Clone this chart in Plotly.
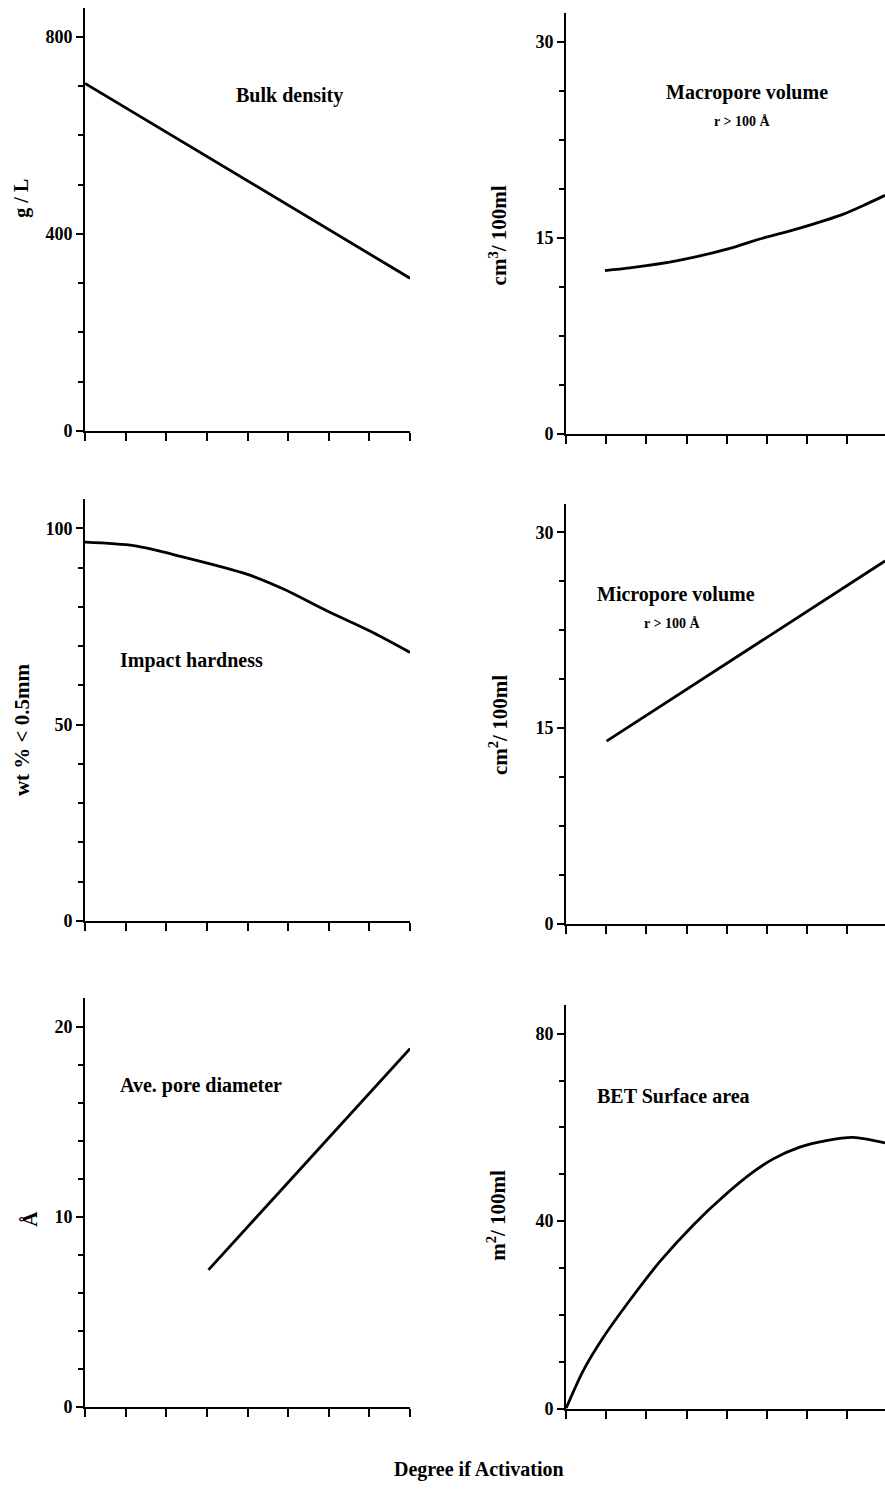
import plotly.graph_objects as go

# ---- data (degree of activation on x, 0..8 arbitrary units) ----
bulk_x = [0, 8]
bulk_y = [705, 310]

macro_x = [0.97, 1.59, 2.84, 4.08, 4.75, 5.82, 6.89, 7.49, 7.94]
macro_y = [12.5, 12.7, 13.3, 14.2, 14.85, 15.75, 16.8, 17.6, 18.25]

impact_x = [0, 1.2, 2.35, 4.0, 4.9, 5.95, 7.0, 8]
impact_y = [96.5, 95.6, 92.9, 88.3, 84.5, 79.0, 73.9, 68.4]

micro_x = [1.01, 7.94]
micro_y = [14.0, 27.8]

pore_x = [3.04, 8]
pore_y = [7.2, 18.85]

bet_x = [0, 0.43, 0.93, 1.51, 2.34, 3.17, 3.91, 4.66, 5.16, 5.82, 6.48, 7.15, 7.94]
bet_y = [0, 8.1, 15.2, 22.2, 31.4, 39.2, 45.2, 50.5, 53.3, 55.8, 57.2, 57.9, 56.7]

W, H = 885, 1496
FONT = "Liberation Serif"

def px(x):
    return x / W

def py(y):
    return 1 - y / H

# panel layout: x-domain px, y-domain px (top, bottom), y range max, major/minor tick steps, x range max
panels = [
    dict(x=bulk_x, y=bulk_y, xd=(85, 410), yd=(8, 434), ymax=858, major=400, minor=100, xmax=8, shape="linear"),
    dict(x=macro_x, y=macro_y, xd=(566, 885), yd=(13, 437), ymax=32.2, major=15, minor=3.75, xmax=7.94, shape="spline"),
    dict(x=impact_x, y=impact_y, xd=(85, 410), yd=(502, 927), ymax=107.6, major=50, minor=10, xmax=8, shape="spline"),
    dict(x=micro_x, y=micro_y, xd=(566, 885), yd=(507, 930), ymax=32.2, major=15, minor=3.75, xmax=7.94, shape="linear"),
    dict(x=pore_x, y=pore_y, xd=(85, 410), yd=(1005, 1416), ymax=21.5, major=10, minor=2, xmax=8, shape="linear"),
    dict(x=bet_x, y=bet_y, xd=(566, 885), yd=(1012, 1418), ymax=86.1, major=40, minor=10, xmax=7.94, shape="spline"),
]

fig = go.Figure()
layout = dict(
    width=W, height=H,
    margin=dict(l=0, r=0, t=0, b=0),
    paper_bgcolor="white", plot_bgcolor="white",
    showlegend=False,
)

for i, p in enumerate(panels, start=1):
    xa = "x" if i == 1 else f"x{i}"
    ya = "y" if i == 1 else f"y{i}"
    fig.add_trace(go.Scatter(
        x=p["x"], y=p["y"], mode="lines",
        line=dict(color="black", width=2.8, shape=p["shape"], smoothing=0.8),
        xaxis=xa, yaxis=ya, hoverinfo="skip",
    ))
    xkey = "xaxis" if i == 1 else f"xaxis{i}"
    ykey = "yaxis" if i == 1 else f"yaxis{i}"
    layout[xkey] = dict(
        domain=[px(p["xd"][0]), px(p["xd"][1])],
        range=[0, p["xmax"]],
        anchor=ya,
        tickmode="linear", tick0=0, dtick=1,
        ticks="outside", ticklen=8, tickwidth=2, tickcolor="black",
        showticklabels=False, showgrid=False, zeroline=False,
        showline=True, linewidth=2, linecolor="black",
    )
    layout[ykey] = dict(
        domain=[py(p["yd"][1]), py(p["yd"][0])],
        range=[0, p["ymax"]],
        anchor=xa,
        tickmode="linear", tick0=0, dtick=p["major"],
        ticks="outside", ticklen=7, tickwidth=2, tickcolor="black",
        minor=dict(tick0=0, dtick=p["minor"], ticks="outside", ticklen=5,
                   tickwidth=2, tickcolor="black"),
        tickfont=dict(family=FONT, size=18, color="black", weight="bold"),
        showgrid=False, zeroline=False,
        showline=True, linewidth=2, linecolor="black",
    )

fig.update_layout(**layout)

def note(text, x, y, size=20, angle=0):
    fig.add_annotation(
        text=text, x=px(x), y=py(y), xref="paper", yref="paper",
        showarrow=False, textangle=angle, xanchor="center", yanchor="middle",
        font=dict(family=FONT, size=size, color="black", weight="bold"),
    )

# panel titles
note("Bulk density", 289, 96)
note("Macropore volume", 747, 93)
note("r > 100 Å", 742, 122, size=14)
note("Impact hardness", 191, 665)
note("Micropore volume", 676, 599)
note("r > 100 Å", 672, 628, size=14)
note("Ave. pore diameter", 201, 1093)
note("BET Surface area", 673, 1103)

# y-axis titles
note("g / L", 22, 200, size=20, angle=-90)
note("cm<sup>3</sup>/ 100ml", 498, 237, size=21, angle=-90)
note("wt % < 0.5mm", 22, 735, size=21, angle=-90)
note("cm<sup>2</sup>/ 100ml", 498, 730, size=21, angle=-90)
note("Å", 30, 1227, size=21, angle=-90)
note("m<sup>2</sup>/ 100ml", 497, 1223, size=21, angle=-90)

# shared x-axis title
note("Degree if Activation", 479, 1479, size=20)

fig.write_html("out.html")
